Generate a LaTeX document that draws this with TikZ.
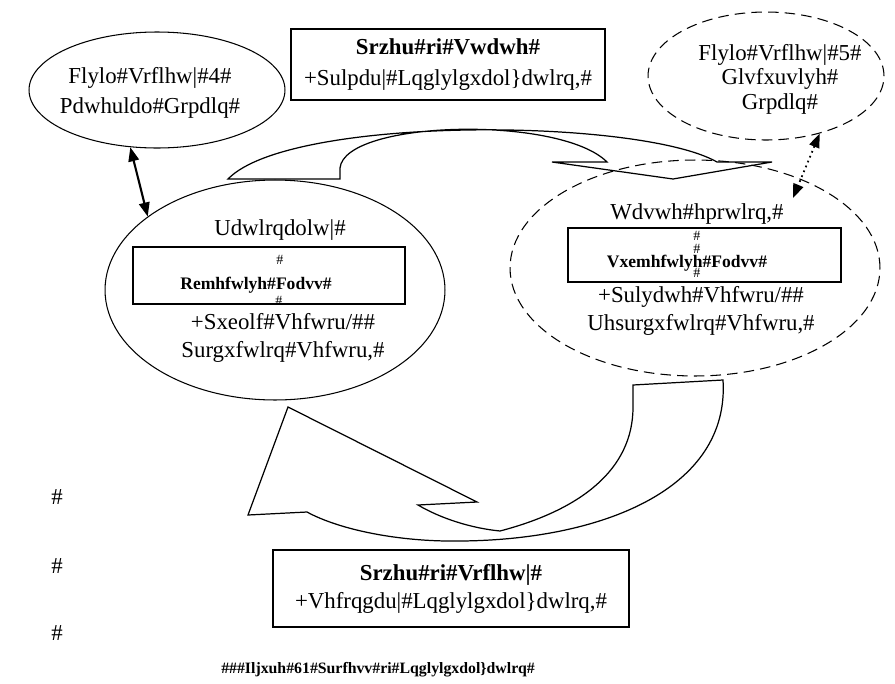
\documentclass[tikz,border=0pt]{standalone}
\usepackage{fontspec}
\setmainfont{Liberation Serif}
\usetikzlibrary{shapes.geometric, arrows.meta}

\begin{document}
\begin{tikzpicture}[x=0.02cm, y=-0.02cm,
  txt/.style={font=\fontsize{13}{17}\selectfont, align=center, inner sep=0pt},
  boldtxt/.style={font=\fontsize{10}{12}\selectfont\bfseries, inner sep=0pt},
  smallhash/.style={font=\fontsize{8}{8}\selectfont, inner sep=0pt},
  ell/.style={ellipse, draw, line width=0.6pt, inner sep=0pt},
  dashell/.style={ell, dash pattern=on 6pt off 3.5pt},
  boxnode/.style={draw, line width=0.8pt, inner sep=0pt},
  link/.style={{Triangle[length=8pt,width=6pt]}-{Triangle[length=8pt,width=6pt]}}]
  \useasboundingbox (0,0) rectangle (895,683);
  % civil society 1
  \node[ell, minimum width=5.12cm, minimum height=2.32cm] (civil1) at (157,90) {};
  \node[txt] (civil1txt) at (150,93) {Flylo\#Vrflhw|\#4\#\\Pdwhuldo\#Grpdlq\#};
  % power of state
  \node[boxnode, txt, font=\fontsize{13}{17.5}\selectfont, minimum width=6.28cm, minimum height=1.42cm] (statebox) at (448,64.5)
    {\textbf{Srzhu\#ri\#Vwdwh\#}\\+Sulpdu|\#Lqglylgxdol\}dwlrq,\#};
  % civil society 2
  \node[dashell, minimum width=4.72cm, minimum height=2.56cm] (civil2) at (766,76) {};
  \node[txt, font=\fontsize{13}{14}\selectfont] (civil2txt) at (780,79) {Flylo\#Vrflhw|\#5\#\\Glvfxuvlyh\#\\Grpdlq\#};
  % rationality
  \node[ell, minimum width=6.8cm, minimum height=4.4cm] (ration) at (275,290) {};
  \node[txt] (rationtxt) at (280,230) {Udwlrqdolw|\#};
  \node[boxnode, minimum width=5.44cm, minimum height=1.14cm] (objbox) at (269,275.5) {};
  \node[smallhash] (objhasha) at (280,260) {\#};
  \node[boldtxt] (objtxt) at (256,285) {Remhfwlyh\#Fodvv\#};
  \node[smallhash] (objhashb) at (279,301) {\#};
  \node[txt, font=\fontsize{13}{15.5}\selectfont] (publictxt) at (283,338) {+Sxeolf\#Vhfwru/\#\#\\Surgxfwlrq\#Vhfwru,\#};
  % taste
  \node[dashell, minimum width=7.4cm, minimum height=4.32cm] (taste) at (695,268) {};
  \node[txt] (tastetxt) at (697,214) {Wdvwh\#hprwlrq,\#};
  \node[boxnode, minimum width=5.46cm, minimum height=1.08cm] (subjbox) at (704.5,255) {};
  \node[smallhash] (subjhasha) at (697,236) {\#};
  \node[smallhash] (subjhashb) at (697,249) {\#};
  \node[smallhash] (subjhashc) at (697,273) {\#};
  \node[boldtxt] (subjtxt) at (687,263) {Vxemhfwlyh\#Fodvv\#};
  \node[txt, font=\fontsize{13}{16}\selectfont] (privatetxt) at (701,311) {+Sulydwh\#Vhfwru/\#\#\\Uhsurgxfwlrq\#Vhfwru,\#};
  % power of society
  \node[boxnode, txt, font=\fontsize{13}{16}\selectfont, minimum width=7.12cm, minimum height=1.54cm] (societybox) at (451,588.5)
    {\textbf{Srzhu\#ri\#Vrflhw|\#}\\+Vhfrqgdu|\#Lqglylgxdol\}dwlrq,\#};
  \foreach \y/\n in {497/a,566/b,633/c}
    \node[txt] (mark\n) at (57,\y) {\#};
  \node[font=\fontsize{9}{11}\selectfont\bfseries, inner sep=0pt] (caption) at (378,670)
    {\#\#\#Iljxuh\#61\#Surfhvv\#ri\#Lqglylgxdol\}dwlrq\#};
  % block arrows
  \draw[line width=0.7pt] (228,179) .. controls (290,115) and (640,118) .. (717,162) -- (772,162) -- (673,179)
    -- (552,162) -- (607,162) .. controls (560,115) and (345,120) .. (340,168) -- (340,179) -- cycle;
  \draw[line width=0.7pt] (633,385) -- (723,380) .. controls (730,490) and (600,540) .. (460,541)
    .. controls (400,542) and (340,530) .. (307,512) -- (248,515) -- (288,407) -- (477,502) -- (418,505)
    .. controls (440,518) and (470,528) .. (500,531) .. controls (580,510) and (633,470) .. (633,407) -- cycle;
  % links
  \coordinate (tastetip) at (793,198);
  \draw[link, line width=1.2pt] (civil1.245) -- (ration.150);
  \draw[link, dotted, line width=1pt] (civil2.313) -- (tastetip);
\end{tikzpicture}
\end{document}
